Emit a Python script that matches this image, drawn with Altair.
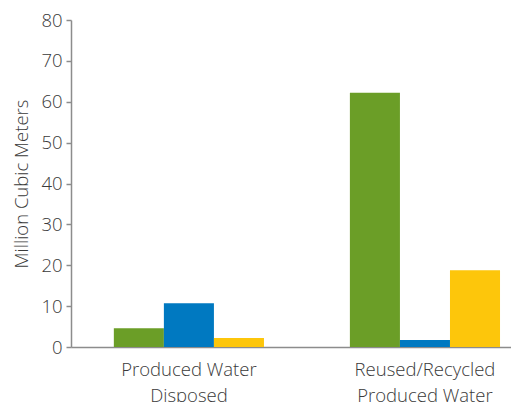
import altair as alt
import pandas as pd

categories = ["Produced Water Disposed", "Reused/Recycled Produced Water"]
series = ["Series 1", "Series 2", "Series 3"]
values_series1 = [4.6, 62.2]
values_series2 = [10.7, 1.7]
values_series3 = [2.2, 18.8]
colors = ["#6B9E27", "#0079C1", "#FDC60B"]

rows = []
for i, c in enumerate(categories):
    for s, vals in zip(series, [values_series1, values_series2, values_series3]):
        rows.append({"category": c, "series": s, "value": vals[i]})
df = pd.DataFrame(rows)

label_expr = ("datum.label == 'Produced Water Disposed' ? ['Produced Water', 'Disposed'] : "
              "['Reused/Recycled', 'Produced Water']")

FONT = "Open Sans"
TXT = "#3a3a3a"

chart = alt.Chart(df).mark_bar().encode(
    x=alt.X("category:N", sort=categories,
            scale=alt.Scale(paddingInner=0.364, paddingOuter=0.114, align=0.796),
            axis=alt.Axis(title=None, labelAngle=0, ticks=False, labelExpr=label_expr,
                          labelFontSize=18.5, labelColor=TXT, labelPadding=13,
                          labelLineHeight=26, domainColor="#8c8c8c", domainWidth=1.5,
                          labelFont=FONT, labelFontWeight=300, labelBaseline="top")),
    xOffset=alt.XOffset("series:N", sort=series, scale=alt.Scale(paddingInner=0, paddingOuter=0)),
    y=alt.Y("value:Q", scale=alt.Scale(domain=[0, 80]),
            axis=alt.Axis(title="Million Cubic Meters", values=list(range(0, 81, 10)),
                          grid=False, tickSize=5, tickColor="#8c8c8c", domainColor="#8c8c8c",
                          domainWidth=1.5, tickWidth=1.5,
                          labelFontSize=18.5, labelColor=TXT, labelFont=FONT, labelFontWeight=300,
                          titleFont=FONT, titleFontSize=18.5, titleFontWeight=300,
                          titleColor=TXT, titlePadding=9, labelPadding=4)),
    color=alt.Color("series:N", sort=series, scale=alt.Scale(domain=series, range=colors), legend=None),
).properties(
    width=440, height=327,
    autosize="none",
    padding={"left": 63, "top": 12, "right": 0, "bottom": 55},
).configure_view(stroke=None)

chart.save("out.html", embed_options={"renderer": "svg", "actions": False})
